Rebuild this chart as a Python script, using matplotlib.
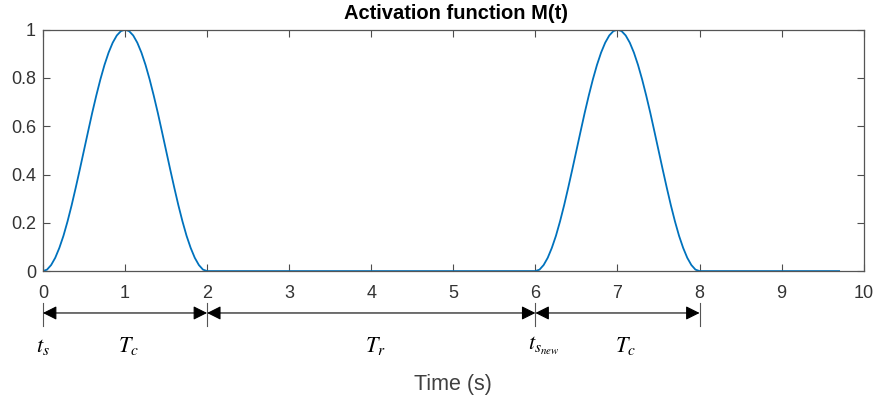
import numpy as np
import matplotlib
matplotlib.use("Agg")
import matplotlib.pyplot as plt
from matplotlib.transforms import blended_transform_factory

# --- data ---
# one activation bump, sampled every 0.05 s over a cycle of length Tc
bump_offsets = [0.0, 0.05, 0.1, 0.15, 0.2, 0.25, 0.3, 0.35, 0.4, 0.45, 0.5,
                0.55, 0.6, 0.65, 0.7, 0.75, 0.8, 0.85, 0.9, 0.95, 1.0,
                1.05, 1.1, 1.15, 1.2, 1.25, 1.3, 1.35, 1.4, 1.45, 1.5,
                1.55, 1.6, 1.65, 1.7, 1.75, 1.8, 1.85, 1.9, 1.95, 2.0]
bump_values = [0.0, 0.006, 0.025, 0.055, 0.096, 0.146, 0.206, 0.273, 0.346, 0.422, 0.5,
               0.578, 0.655, 0.727, 0.794, 0.854, 0.905, 0.946, 0.976, 0.994, 1.0,
               0.994, 0.976, 0.946, 0.905, 0.854, 0.794, 0.727, 0.655, 0.578, 0.5,
               0.422, 0.346, 0.273, 0.206, 0.146, 0.096, 0.055, 0.025, 0.006, 0.0]
cycle_starts = [0, 6]
line_end = 9.7

x_ticks = [0, 1, 2, 3, 4, 5, 6, 7, 8, 9, 10]
y_ticks = [0, 0.2, 0.4, 0.6, 0.8, 1]
y_tick_labels = ["0", "0.2", "0.4", "0.6", "0.8", "1"]

# phase markers under the axis
marker_x = [0, 2, 6, 8]
arrow_spans = [(0, 2), (2, 6), (6, 8)]
phase_labels = [(0, r"$t_s$"), (1.04, r"$T_c$"), (4.05, r"$T_r$"),
                (6.1, r"$t_{s_{new}}$"), (7.1, r"$T_c$")]

# --- build the series ---
t_vals, m_vals = [], []
for start in cycle_starts:
    t_vals += [start + o for o in bump_offsets]
    m_vals += bump_values
t_vals.append(line_end)
m_vals.append(0.0)

plt.rcParams["font.family"] = ["Liberation Sans", "DejaVu Sans"]
plt.rcParams["mathtext.fontset"] = "stix"

fig = plt.figure(figsize=(8.76, 4.01), dpi=100)
ax = fig.add_axes([0.049, 0.324, 0.937, 0.602])

ax.plot(t_vals, m_vals, color="#0072BD", lw=1.3, zorder=2)

ax.set_xlim(0, 10)
ax.set_ylim(0, 1)
ax.set_xticks(x_ticks)
ax.set_yticks(y_ticks)
ax.set_yticklabels(y_tick_labels)
ax.tick_params(direction="in", top=True, right=True, length=5, width=0.8,
               colors="#4d4d4d", labelcolor="#333333", labelsize=13, pad=5)
ax.tick_params(axis="x", pad=10)
for sp in ax.spines.values():
    sp.set_color("#555555")
    sp.set_linewidth(0.9)

fig.text(0.521, 0.967, "Activation function M(t)", ha="center", va="center",
         fontsize=14.5, fontweight="bold", color="black")

# annotations below the axis: x in data units, y in figure fraction
trans = blended_transform_factory(ax.transData, fig.transFigure)
for mx in marker_x:
    ax.plot([mx, mx], [0.187, 0.244], color="#555555", lw=0.8,
            transform=trans, clip_on=False)
for a, b in arrow_spans:
    ax.annotate("", xy=(b, 0.2195), xytext=(a, 0.2195), xycoords=trans,
                textcoords=trans,
                arrowprops=dict(arrowstyle="<|-|>,head_length=0.6,head_width=0.3",
                                color="black", lw=0.8, shrinkA=0, shrinkB=0,
                                mutation_scale=14))
for lx, txt in phase_labels:
    ax.text(lx, 0.137, txt, transform=trans, ha="center", va="center",
            fontsize=16, color="black")

fig.text(0.517, 0.042, "Time (s)", ha="center", va="center", fontsize=15.5,
         color="#404040")

fig.savefig("out.png", dpi=100)
